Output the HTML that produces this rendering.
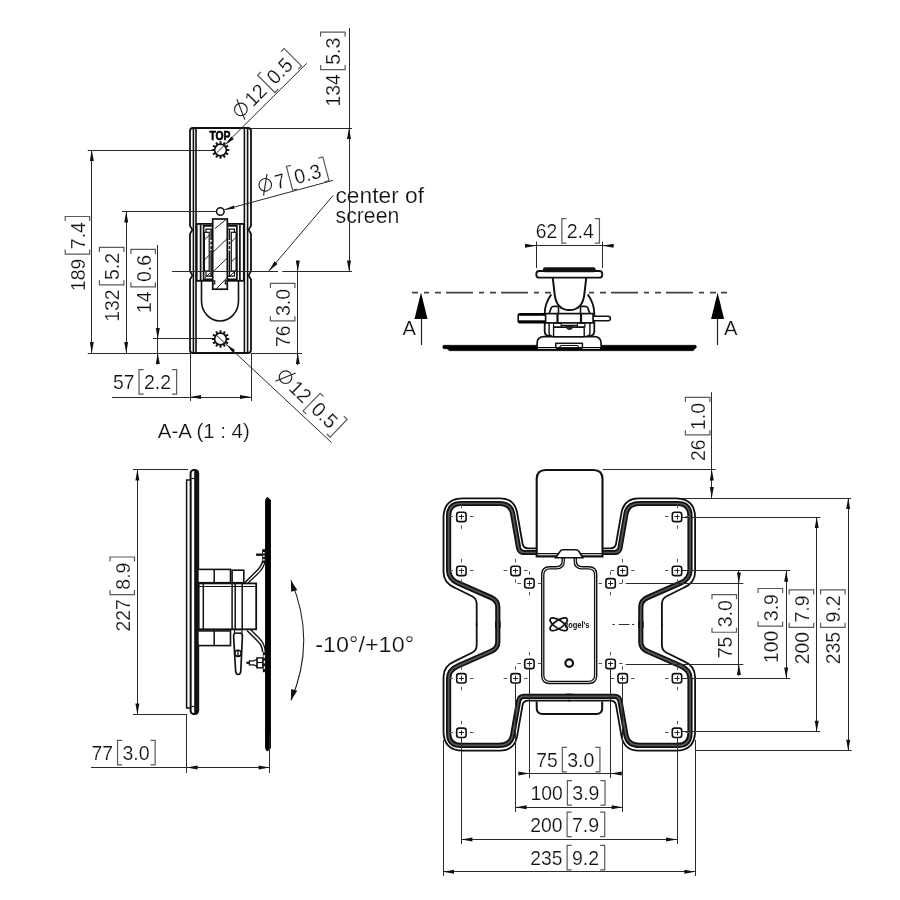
<!DOCTYPE html>
<html><head><meta charset="utf-8"><style>
html,body{margin:0;padding:0;background:#fff;}
svg{display:block;will-change:transform;}
text{font-family:"Liberation Sans",sans-serif;font-size:20px;fill:#111;stroke:#fff;stroke-width:0.2px;}
</style></head><body>
<svg width="900" height="900" viewBox="0 0 900 900">
<rect width="900" height="900" fill="#fff"/>
<rect x="190" y="128" width="61" height="225" rx="3" stroke="#111" stroke-width="1.8" fill="none"/>
<line x1="193.4" y1="128" x2="193.4" y2="353" stroke="#111" stroke-width="1.6" />
<line x1="196" y1="128" x2="196" y2="353" stroke="#111" stroke-width="1.6" />
<line x1="244.4" y1="128" x2="244.4" y2="353" stroke="#111" stroke-width="1.6" />
<line x1="247.6" y1="128" x2="247.6" y2="353" stroke="#111" stroke-width="1.6" />
<rect x="188" y="226.2" width="3" height="7.2" fill="#fff"/>
<rect x="250" y="226.2" width="3" height="7.2" fill="#fff"/>
<path d="M190,225.7 L192.4,229.79999999999998 L190,233.89999999999998" stroke="#111" stroke-width="1.7" fill="none" />
<path d="M251,225.7 L248.6,229.79999999999998 L251,233.89999999999998" stroke="#111" stroke-width="1.7" fill="none" />
<rect x="188" y="271.8" width="3" height="7.2" fill="#fff"/>
<rect x="250" y="271.8" width="3" height="7.2" fill="#fff"/>
<path d="M190,271.3 L192.4,275.40000000000003 L190,279.5" stroke="#111" stroke-width="1.7" fill="none" />
<path d="M251,271.3 L248.6,275.40000000000003 L251,279.5" stroke="#111" stroke-width="1.7" fill="none" />
<rect x="196.7" y="223.9" width="47.1" height="56.9" fill="#fff" stroke="#111" stroke-width="1.8"/>
<g transform="">
<line x1="200.6" y1="224.5" x2="200.6" y2="280.5" stroke="#111" stroke-width="1.7" />
<path d="M212.7,225.8 H203.6 V279.3 H212.7" stroke="#111" stroke-width="1.7" fill="none" />
<path d="M212.7,229.2 H206 V232.3 M206,271 V276.2 H212.7" stroke="#111" stroke-width="1.2" fill="none" />
<rect x="204.4" y="232.3" width="4.8" height="38.7" stroke="#111" stroke-width="1.2" fill="none"/>
<line x1="211.1" y1="229" x2="211.1" y2="277" stroke="#111" stroke-width="1.5" stroke-dasharray="11 1.5 3 1.5 3 1.5 30"/>
</g>
<g transform="translate(440.5,0) scale(-1,1)">
<line x1="200.6" y1="224.5" x2="200.6" y2="280.5" stroke="#111" stroke-width="1.7" />
<path d="M212.7,225.8 H203.6 V279.3 H212.7" stroke="#111" stroke-width="1.7" fill="none" />
<path d="M212.7,229.2 H206 V232.3 M206,271 V276.2 H212.7" stroke="#111" stroke-width="1.2" fill="none" />
<rect x="204.4" y="232.3" width="4.8" height="38.7" stroke="#111" stroke-width="1.2" fill="none"/>
<line x1="211.1" y1="229" x2="211.1" y2="277" stroke="#111" stroke-width="1.5" stroke-dasharray="11 1.5 3 1.5 3 1.5 30"/>
</g>
<line x1="204.4" y1="240" x2="209.2" y2="235.2" stroke="#222" stroke-width="1" />
<line x1="204.4" y1="260" x2="209.2" y2="255.2" stroke="#222" stroke-width="1" />
<line x1="205" y1="278" x2="210" y2="273" stroke="#222" stroke-width="1" />
<line x1="231.3" y1="242" x2="236.1" y2="237.2" stroke="#222" stroke-width="1" />
<line x1="231.3" y1="262" x2="236.1" y2="257.2" stroke="#222" stroke-width="1" />
<line x1="229" y1="277" x2="234" y2="272" stroke="#222" stroke-width="1" />
<rect x="212.7" y="219" width="14.6" height="70.2" fill="#fff" stroke="#111" stroke-width="1.7"/>
<path d="M212.7,280.8 h2 v3 h-2 M227.3,280.8 h-2 v3 h2" stroke="#111" stroke-width="1.2" fill="none" />
<line x1="215" y1="228.5" x2="227.3" y2="218.5" stroke="#222" stroke-width="1" />
<line x1="212.7" y1="252.5" x2="227.3" y2="238.5" stroke="#222" stroke-width="1" />
<line x1="212.7" y1="272" x2="227.3" y2="258" stroke="#222" stroke-width="1" />
<line x1="216" y1="289" x2="227.3" y2="277.5" stroke="#222" stroke-width="1" />
<line x1="209.5" y1="252" x2="212.7" y2="249" stroke="#222" stroke-width="1" />
<path d="M201.5,281 V301 A18.5,20 0 0 0 238.5,301 V281" stroke="#111" stroke-width="1.6" fill="none" />
<circle cx="220.5" cy="150" r="5.9" stroke="#111" stroke-width="1.7" fill="none"/>
<line x1="220.5" y1="143.8" x2="220.5" y2="141.3" stroke="#111" stroke-width="2.0"/>
<line x1="223.6" y1="144.63" x2="224.85" y2="142.47" stroke="#111" stroke-width="2.0"/>
<line x1="225.87" y1="146.9" x2="228.03" y2="145.65" stroke="#111" stroke-width="2.0"/>
<line x1="226.7" y1="150" x2="229.2" y2="150" stroke="#111" stroke-width="2.0"/>
<line x1="225.87" y1="153.1" x2="228.03" y2="154.35" stroke="#111" stroke-width="2.0"/>
<line x1="223.6" y1="155.37" x2="224.85" y2="157.53" stroke="#111" stroke-width="2.0"/>
<line x1="220.5" y1="156.2" x2="220.5" y2="158.7" stroke="#111" stroke-width="2.0"/>
<line x1="217.4" y1="155.37" x2="216.15" y2="157.53" stroke="#111" stroke-width="2.0"/>
<line x1="215.13" y1="153.1" x2="212.97" y2="154.35" stroke="#111" stroke-width="2.0"/>
<line x1="214.3" y1="150" x2="211.8" y2="150" stroke="#111" stroke-width="2.0"/>
<line x1="215.13" y1="146.9" x2="212.97" y2="145.65" stroke="#111" stroke-width="2.0"/>
<line x1="217.4" y1="144.63" x2="216.15" y2="142.47" stroke="#111" stroke-width="2.0"/>
<circle cx="220.5" cy="339" r="5.9" stroke="#111" stroke-width="1.7" fill="none"/>
<line x1="220.5" y1="332.8" x2="220.5" y2="330.3" stroke="#111" stroke-width="2.0"/>
<line x1="223.6" y1="333.63" x2="224.85" y2="331.47" stroke="#111" stroke-width="2.0"/>
<line x1="225.87" y1="335.9" x2="228.03" y2="334.65" stroke="#111" stroke-width="2.0"/>
<line x1="226.7" y1="339" x2="229.2" y2="339" stroke="#111" stroke-width="2.0"/>
<line x1="225.87" y1="342.1" x2="228.03" y2="343.35" stroke="#111" stroke-width="2.0"/>
<line x1="223.6" y1="344.37" x2="224.85" y2="346.53" stroke="#111" stroke-width="2.0"/>
<line x1="220.5" y1="345.2" x2="220.5" y2="347.7" stroke="#111" stroke-width="2.0"/>
<line x1="217.4" y1="344.37" x2="216.15" y2="346.53" stroke="#111" stroke-width="2.0"/>
<line x1="215.13" y1="342.1" x2="212.97" y2="343.35" stroke="#111" stroke-width="2.0"/>
<line x1="214.3" y1="339" x2="211.8" y2="339" stroke="#111" stroke-width="2.0"/>
<line x1="215.13" y1="335.9" x2="212.97" y2="334.65" stroke="#111" stroke-width="2.0"/>
<line x1="217.4" y1="333.63" x2="216.15" y2="331.47" stroke="#111" stroke-width="2.0"/>
<circle cx="220.3" cy="211.5" r="3.8" stroke="#111" stroke-width="1.5" fill="#fff"/>
<text x="209.5" y="139.8" style="font-size:12.5px;font-weight:bold;fill:#000;stroke:#000;stroke-width:0.6px" textLength="21" lengthAdjust="spacingAndGlyphs">TOP</text>
<line x1="349.5" y1="28" x2="349.5" y2="271.5" stroke="#2a2a2a" stroke-width="1" />
<line x1="251" y1="128.5" x2="352" y2="128.5" stroke="#2a2a2a" stroke-width="1" />
<path d="M349,128 L351,139 L347,139 Z" fill="#111"/>
<path d="M349,271.5 L347,260.5 L351,260.5 Z" fill="#111"/>
<g transform="translate(340.2,106.6) rotate(-90)"><text x="0" y="0" style="font-size:20.4px" textLength="32.31" lengthAdjust="spacingAndGlyphs">134</text><path d="M41.51,-19.6 H36.91 V4.9 H41.51" stroke="#5a5a5a" stroke-width="1.2" fill="none"/><text x="41.81" y="0" style="font-size:20.4px" textLength="27.2" lengthAdjust="spacingAndGlyphs">5.3</text><path d="M69.91,-19.6 H74.51 V4.9 H69.91" stroke="#5a5a5a" stroke-width="1.2" fill="none"/></g>
<line x1="172" y1="271.5" x2="278" y2="271.5" stroke="#2a2a2a" stroke-width="1" />
<line x1="282.2" y1="271.5" x2="352" y2="271.5" stroke="#2a2a2a" stroke-width="1" />
<line x1="91.5" y1="150" x2="91.5" y2="353" stroke="#2a2a2a" stroke-width="1" />
<line x1="87.8" y1="150.5" x2="213" y2="150.5" stroke="#2a2a2a" stroke-width="1" />
<line x1="87.8" y1="353.5" x2="190" y2="353.5" stroke="#2a2a2a" stroke-width="1" />
<path d="M91.8,150 L93.8,161 L89.8,161 Z" fill="#111"/>
<path d="M91.8,353 L89.8,342 L93.8,342 Z" fill="#111"/>
<g transform="translate(84.8,291) rotate(-90)"><text x="0" y="0" style="font-size:20.4px" textLength="32.31" lengthAdjust="spacingAndGlyphs">189</text><path d="M41.51,-19.6 H36.91 V4.9 H41.51" stroke="#5a5a5a" stroke-width="1.2" fill="none"/><text x="41.81" y="0" style="font-size:20.4px" textLength="27.2" lengthAdjust="spacingAndGlyphs">7.4</text><path d="M69.91,-19.6 H74.51 V4.9 H69.91" stroke="#5a5a5a" stroke-width="1.2" fill="none"/></g>
<line x1="126.5" y1="211.6" x2="126.5" y2="353" stroke="#2a2a2a" stroke-width="1" />
<line x1="122" y1="211.5" x2="216" y2="211.5" stroke="#2a2a2a" stroke-width="1" />
<path d="M126.2,211.6 L128.2,222.6 L124.2,222.6 Z" fill="#111"/>
<path d="M126.2,353 L124.2,342 L128.2,342 Z" fill="#111"/>
<g transform="translate(119,321.8) rotate(-90)"><text x="0" y="0" style="font-size:20.4px" textLength="32.31" lengthAdjust="spacingAndGlyphs">132</text><path d="M41.51,-19.6 H36.91 V4.9 H41.51" stroke="#5a5a5a" stroke-width="1.2" fill="none"/><text x="41.81" y="0" style="font-size:20.4px" textLength="27.2" lengthAdjust="spacingAndGlyphs">5.2</text><path d="M69.91,-19.6 H74.51 V4.9 H69.91" stroke="#5a5a5a" stroke-width="1.2" fill="none"/></g>
<line x1="157.5" y1="245" x2="157.5" y2="364.4" stroke="#2a2a2a" stroke-width="1" />
<line x1="153" y1="338.5" x2="212" y2="338.5" stroke="#2a2a2a" stroke-width="1" />
<path d="M157.8,338.9 L155.8,327.9 L159.8,327.9 Z" fill="#111"/>
<path d="M157.8,353 L159.8,364 L155.8,364 Z" fill="#111"/>
<g transform="translate(150.5,313) rotate(-90)"><text x="0" y="0" style="font-size:20.4px" textLength="21.44" lengthAdjust="spacingAndGlyphs">14</text><path d="M30.64,-19.6 H26.04 V4.9 H30.64" stroke="#5a5a5a" stroke-width="1.2" fill="none"/><text x="30.94" y="0" style="font-size:20.4px" textLength="27.2" lengthAdjust="spacingAndGlyphs">0.6</text><path d="M59.04,-19.6 H63.64 V4.9 H59.04" stroke="#5a5a5a" stroke-width="1.2" fill="none"/></g>
<line x1="112" y1="397.5" x2="251" y2="397.5" stroke="#2a2a2a" stroke-width="1" />
<line x1="190.5" y1="353" x2="190.5" y2="401" stroke="#2a2a2a" stroke-width="1" />
<line x1="251.5" y1="353" x2="251.5" y2="401" stroke="#2a2a2a" stroke-width="1" />
<path d="M190,397 L201,395 L201,399 Z" fill="#111"/>
<path d="M251,397 L240,399 L240,395 Z" fill="#111"/>
<g transform="translate(113,389.2)"><text x="0" y="0" style="font-size:20.4px" textLength="21.44" lengthAdjust="spacingAndGlyphs">57</text><path d="M30.64,-19.6 H26.04 V4.9 H30.64" stroke="#5a5a5a" stroke-width="1.2" fill="none"/><text x="30.94" y="0" style="font-size:20.4px" textLength="27.2" lengthAdjust="spacingAndGlyphs">2.2</text><path d="M59.04,-19.6 H63.64 V4.9 H59.04" stroke="#5a5a5a" stroke-width="1.2" fill="none"/></g>
<line x1="297.5" y1="261" x2="297.5" y2="365" stroke="#2a2a2a" stroke-width="1" />
<line x1="251" y1="353.5" x2="302" y2="353.5" stroke="#2a2a2a" stroke-width="1" />
<path d="M297.8,271.5 L295.8,260.5 L299.8,260.5 Z" fill="#111"/>
<path d="M297.8,353 L299.8,364 L295.8,364 Z" fill="#111"/>
<g transform="translate(290,347) rotate(-90)"><text x="0" y="0" style="font-size:20.4px" textLength="21.44" lengthAdjust="spacingAndGlyphs">76</text><path d="M30.64,-19.6 H26.04 V4.9 H30.64" stroke="#5a5a5a" stroke-width="1.2" fill="none"/><text x="30.94" y="0" style="font-size:20.4px" textLength="27.2" lengthAdjust="spacingAndGlyphs">3.0</text><path d="M59.04,-19.6 H63.64 V4.9 H59.04" stroke="#5a5a5a" stroke-width="1.2" fill="none"/></g>
<line x1="216.5" y1="153" x2="306.7" y2="63.3" stroke="#2a2a2a" stroke-width="1" />
<path d="M225.5,144.8 L231.33,136.49 L233.81,138.97 Z" fill="#111"/>
<line x1="216" y1="334.9" x2="331.5" y2="442.5" stroke="#2a2a2a" stroke-width="1" />
<path d="M226.5,344.5 L235.01,350.03 L232.63,352.59 Z" fill="#111"/>
<line x1="224.5" y1="209.7" x2="333" y2="180.4" stroke="#2a2a2a" stroke-width="1" />
<path d="M224.5,209.7 L233.7,205.4 L234.61,208.78 Z" fill="#111"/>
<line x1="268.9" y1="271" x2="333" y2="195.6" stroke="#2a2a2a" stroke-width="1" />
<path d="M268.9,271 L274.53,261.34 L277.57,263.94 Z" fill="#111"/>
<g transform="translate(241,119.5) rotate(-45)"><g stroke="#222" stroke-width="1.1" fill="none"><circle cx="7" cy="-7.2" r="6.3"/><line x1="2.6" y1="2.8" x2="11.4" y2="-17.2"/></g><g transform="translate(17,0)"><text x="0" y="0" style="font-size:20.4px" textLength="21.44" lengthAdjust="spacingAndGlyphs">12</text><path d="M30.64,-19.6 H26.04 V4.9 H30.64" stroke="#5a5a5a" stroke-width="1.2" fill="none"/><text x="30.94" y="0" style="font-size:20.4px" textLength="27.2" lengthAdjust="spacingAndGlyphs">0.5</text><path d="M59.04,-19.6 H63.64 V4.9 H59.04" stroke="#5a5a5a" stroke-width="1.2" fill="none"/></g></g>
<g transform="translate(260.3,193.6) rotate(-14.7)"><g stroke="#222" stroke-width="1.1" fill="none"><circle cx="7" cy="-7.2" r="6.3"/><line x1="2.6" y1="2.8" x2="11.4" y2="-17.2"/></g><g transform="translate(17,0)"><text x="0" y="0" style="font-size:20.4px" textLength="10.57" lengthAdjust="spacingAndGlyphs">7</text><path d="M19.77,-19.6 H15.17 V4.9 H19.77" stroke="#5a5a5a" stroke-width="1.2" fill="none"/><text x="20.07" y="0" style="font-size:20.4px" textLength="27.2" lengthAdjust="spacingAndGlyphs">0.3</text><path d="M48.17,-19.6 H52.77 V4.9 H48.17" stroke="#5a5a5a" stroke-width="1.2" fill="none"/></g></g>
<g transform="translate(275.5,377.5) rotate(44)"><g stroke="#222" stroke-width="1.1" fill="none"><circle cx="7" cy="-7.2" r="6.3"/><line x1="2.6" y1="2.8" x2="11.4" y2="-17.2"/></g><g transform="translate(17,0)"><text x="0" y="0" style="font-size:20.4px" textLength="21.44" lengthAdjust="spacingAndGlyphs">12</text><path d="M30.64,-19.6 H26.04 V4.9 H30.64" stroke="#5a5a5a" stroke-width="1.2" fill="none"/><text x="30.94" y="0" style="font-size:20.4px" textLength="27.2" lengthAdjust="spacingAndGlyphs">0.5</text><path d="M59.04,-19.6 H63.64 V4.9 H59.04" stroke="#5a5a5a" stroke-width="1.2" fill="none"/></g></g>
<text x="335.5" y="203.3" style="font-size:21.3px" textLength="88.5" lengthAdjust="spacingAndGlyphs">center of</text>
<text x="335.5" y="223.3" style="font-size:21.3px" textLength="63.8" lengthAdjust="spacingAndGlyphs">screen</text>
<text x="157.8" y="437.8" textLength="92" lengthAdjust="spacingAndGlyphs">A-A (1 : 4)</text>
<line x1="412" y1="292.6" x2="727" y2="292.6" stroke="#444" stroke-width="1.6" stroke-dasharray="27 6 5 6 6 5" stroke-dashoffset="21"/>
<path d="M421,292.6 L414.5,319 L427.5,319 Z" fill="#000"/>
<line x1="421.5" y1="319" x2="421.5" y2="345" stroke="#222" stroke-width="1.2" />
<path d="M717.6,292.6 L711.1,319 L724.1,319 Z" fill="#000"/>
<line x1="717.5" y1="319" x2="717.5" y2="345" stroke="#222" stroke-width="1.2" />
<text x="402.5" y="335.2" style="font-size:19.3px" textLength="13.5" lengthAdjust="spacingAndGlyphs">A</text>
<text x="724" y="335.2" style="font-size:19.3px" textLength="13.5" lengthAdjust="spacingAndGlyphs">A</text>
<path d="M443.5,345.3 H695.5 Q697.5,346.8 695.5,348.2 L693,350.7 H449.5 L447,348.7 H443.5 Q442,347 443.5,345.3 Z" stroke="#000" stroke-width="0.6" fill="#000" />
<path d="M537.1,347 V343.5 Q537.1,336.7 544,336.7 H594.2 Q601.1,336.7 601.1,343.5 V347" stroke="#111" stroke-width="1.7" fill="#fff" />
<rect x="555.8" y="343.3" width="26.6" height="4.5" stroke="#111" stroke-width="1.5" fill="#fff"/>
<path d="M559,347.8 L561,345.5 H577.5 L579.5,347.8" stroke="#111" stroke-width="1.1" fill="none" />
<line x1="538" y1="348.5" x2="555.8" y2="348.5" stroke="#ccc" stroke-width="1" />
<line x1="582.4" y1="348.5" x2="600" y2="348.5" stroke="#ccc" stroke-width="1" />
<path d="M551.3,294.4 Q545,303 544.7,313.1 V331.5 Q544.7,336 550.4,336.2" stroke="#111" stroke-width="1.8" fill="none" />
<path d="M587.7,294.4 Q594,303 594.3,313.1 V331.5 Q594.3,336 588.6,336.2" stroke="#111" stroke-width="1.8" fill="none" />
<path d="M549.1,323 V333 Q549.1,336 552,336.2" stroke="#111" stroke-width="1.4" fill="none" />
<path d="M589.9,323 V333 Q589.9,336 587,336.2" stroke="#111" stroke-width="1.4" fill="none" />
<rect x="553.6" y="327.3" width="30.6" height="9.4" stroke="#111" stroke-width="1.4" fill="#fff"/>
<path d="M553.6,325.6 H585.4" stroke="#111" stroke-width="1.6" fill="none" />
<rect x="553.6" y="323.2" width="7.5" height="3.6" stroke="#111" stroke-width="1.1" fill="#fff"/>
<rect x="577.4" y="323.2" width="7.5" height="3.6" stroke="#111" stroke-width="1.1" fill="#fff"/>
<path d="M565.5,325.8 A4,4.3 0 0 0 573.5,325.8 Z" fill="#222"/>
<path d="M549.1,313.6 L551.3,307.6 Q552,306.4 554,306.4 H558.5 V313.6" stroke="#111" stroke-width="1.6" fill="#fff" />
<path d="M589.9,313.6 L587.7,307.6 Q587,306.4 585,306.4 H580.5 V313.6" stroke="#111" stroke-width="1.6" fill="#fff" />
<path d="M552.8,278 L554.5,293 Q556,310 569.5,310.1 Q583,310 584.5,293 L586.2,278" stroke="#111" stroke-width="2" fill="#fff" />
<rect x="518.2" y="313.8" width="28" height="9" rx="1.5" stroke="#000" stroke-width="1.5" fill="#fff"/>
<line x1="519" y1="314.8" x2="546" y2="314.8" stroke="#000" stroke-width="2" />
<line x1="519" y1="321.6" x2="546" y2="321.6" stroke="#000" stroke-width="2.6" />
<rect x="592" y="316.2" width="18.4" height="4.6" rx="2.3" stroke="#111" stroke-width="1.5" fill="#fff"/>
<rect x="545.6" y="313.6" width="47.5" height="9.3" stroke="#111" stroke-width="1.7" fill="#fff"/>
<line x1="557.5" y1="313.6" x2="557.5" y2="322.9" stroke="#111" stroke-width="2.2" />
<line x1="581" y1="313.6" x2="581" y2="322.9" stroke="#111" stroke-width="2.2" />
<rect x="536.3" y="271" width="66" height="6.7" rx="3" stroke="#111" stroke-width="1.8" fill="#fff"/>
<rect x="543" y="267.3" width="52.6" height="4.9" rx="2" fill="#111"/>
<line x1="525" y1="245.5" x2="614" y2="245.5" stroke="#2a2a2a" stroke-width="1" />
<line x1="536.5" y1="241.7" x2="536.5" y2="268" stroke="#2a2a2a" stroke-width="1" />
<line x1="602.5" y1="241.7" x2="602.5" y2="268" stroke="#2a2a2a" stroke-width="1" />
<path d="M536,245.8 L525,247.8 L525,243.8 Z" fill="#111"/>
<path d="M602.5,245.8 L613.5,243.8 L613.5,247.8 Z" fill="#111"/>
<g transform="translate(535.8,238.3)"><text x="0" y="0" style="font-size:20.4px" textLength="21.44" lengthAdjust="spacingAndGlyphs">62</text><path d="M30.64,-19.6 H26.04 V4.9 H30.64" stroke="#5a5a5a" stroke-width="1.2" fill="none"/><text x="30.94" y="0" style="font-size:20.4px" textLength="27.2" lengthAdjust="spacingAndGlyphs">2.4</text><path d="M59.04,-19.6 H63.64 V4.9 H59.04" stroke="#5a5a5a" stroke-width="1.2" fill="none"/></g>
<rect x="190.6" y="470" width="7.6" height="244" rx="3.2" stroke="#111" stroke-width="2.0" fill="#fff"/>
<rect x="194.2" y="471" width="3.6" height="242" fill="#111"/>
<line x1="191.5" y1="478.5" x2="194.2" y2="478.5" stroke="#111" stroke-width="1.2" />
<line x1="191.5" y1="706.5" x2="194.2" y2="706.5" stroke="#111" stroke-width="1.2" />
<rect x="186.6" y="480" width="3.8" height="228" stroke="#111" stroke-width="1.5" fill="#fff"/>
<path d="M265.6,502 Q265.6,497.6 267.5,497.6 L270.4,500 V748 L267.5,751 Q265.6,751 265.6,746 Z" stroke="#000" stroke-width="1" fill="#000" />
<rect x="197.9" y="569.4" width="32.6" height="13.3" stroke="#111" stroke-width="1.6" fill="#fff"/>
<line x1="214.2" y1="569.4" x2="214.2" y2="582.7" stroke="#111" stroke-width="1.5" />
<rect x="232.1" y="570.2" width="11.7" height="12.5" stroke="#111" stroke-width="1.6" fill="#fff"/>
<rect x="198.7" y="583.4" width="57.5" height="45.9" stroke="#111" stroke-width="1.8" fill="#fff"/>
<line x1="203.3" y1="583.4" x2="203.3" y2="629.3" stroke="#111" stroke-width="1.5" />
<line x1="232.1" y1="583.4" x2="232.1" y2="629.3" stroke="#111" stroke-width="1.5" />
<line x1="235.2" y1="583.4" x2="235.2" y2="629.3" stroke="#111" stroke-width="1.5" />
<line x1="242.2" y1="583.4" x2="242.2" y2="629.3" stroke="#111" stroke-width="1.5" />
<line x1="198.7" y1="586.5" x2="256.2" y2="586.5" stroke="#111" stroke-width="1.2" />
<rect x="197.9" y="630.9" width="32.6" height="14.7" stroke="#111" stroke-width="1.6" fill="#fff"/>
<line x1="214.2" y1="630.9" x2="214.2" y2="645.6" stroke="#111" stroke-width="1.5" />
<path d="M233.6,636 Q233.6,633 236,633 H240 Q242.4,633 242.4,636 L240.8,671 Q240.5,674.5 238.2,674.5 Q235.9,674.5 235.6,671 Z" stroke="#111" stroke-width="1.7" fill="#fff" />
<circle cx="238" cy="653.3" r="3.1" stroke="#111" stroke-width="1.6" fill="#fff"/>
<line x1="238" y1="650.5" x2="238" y2="656" stroke="#111" stroke-width="1.3" />
<rect x="234.5" y="629.8" width="7.5" height="3.2" stroke="#111" stroke-width="1.2" fill="#fff"/>
<path d="M244.5,583 L255,572.5 Q262,566 262.6,561" stroke="#111" stroke-width="1.5" fill="none" />
<path d="M248,583 L257,574.5 Q264.5,567.5 265,561" stroke="#111" stroke-width="1.3" fill="none" />
<path d="M247,630.5 L257.5,641 Q262.3,645.5 262.6,652" stroke="#111" stroke-width="1.5" fill="none" />
<path d="M250.5,629.5 L259.5,638.5 Q265,644 265.3,652" stroke="#111" stroke-width="1.3" fill="none" />
<rect x="262.2" y="549.2" width="3.4" height="13.6" fill="#111"/>
<rect x="263.1" y="552" width="1.5" height="1.6" fill="#fff"/>
<rect x="263.1" y="555.5" width="1.5" height="1.6" fill="#fff"/>
<rect x="263.1" y="559" width="1.5" height="1.6" fill="#fff"/>
<line x1="256.1" y1="554.7" x2="262.2" y2="554.7" stroke="#111" stroke-width="2.4" />
<rect x="262.8" y="652.2" width="2.8" height="20" fill="#111"/>
<rect x="263.5" y="655" width="1.4" height="3" fill="#fff"/>
<rect x="263.5" y="660.5" width="1.4" height="3" fill="#fff"/>
<rect x="263.5" y="666" width="1.4" height="3" fill="#fff"/>
<rect x="256.9" y="657.9" width="5.9" height="9.9" stroke="#111" stroke-width="1.4" fill="#fff"/>
<line x1="256.9" y1="662.5" x2="262.8" y2="662.5" stroke="#111" stroke-width="1.2" />
<path d="M249.4,660.8 H253.5 L256.9,659.5 V666 L253.5,664.8 H249.4 Z" stroke="#111" stroke-width="1.3" fill="#fff" />
<line x1="246.4" y1="662.8" x2="249.4" y2="662.8" stroke="#111" stroke-width="2.2" />
<line x1="137.5" y1="469.6" x2="137.5" y2="714.4" stroke="#2a2a2a" stroke-width="1" />
<line x1="133" y1="469.5" x2="188" y2="469.5" stroke="#2a2a2a" stroke-width="1" />
<line x1="133" y1="714.5" x2="187" y2="714.5" stroke="#2a2a2a" stroke-width="1" />
<path d="M137.4,469.6 L139.4,480.6 L135.4,480.6 Z" fill="#111"/>
<path d="M137.4,714.4 L135.4,703.4 L139.4,703.4 Z" fill="#111"/>
<g transform="translate(129.6,631.5) rotate(-90)"><text x="0" y="0" style="font-size:20.4px" textLength="32.31" lengthAdjust="spacingAndGlyphs">227</text><path d="M41.51,-19.6 H36.91 V4.9 H41.51" stroke="#5a5a5a" stroke-width="1.2" fill="none"/><text x="41.81" y="0" style="font-size:20.4px" textLength="27.2" lengthAdjust="spacingAndGlyphs">8.9</text><path d="M69.91,-19.6 H74.51 V4.9 H69.91" stroke="#5a5a5a" stroke-width="1.2" fill="none"/></g>
<line x1="91" y1="767.5" x2="269.6" y2="767.5" stroke="#2a2a2a" stroke-width="1" />
<line x1="186.5" y1="714" x2="186.5" y2="773" stroke="#2a2a2a" stroke-width="1" />
<line x1="269.5" y1="735" x2="269.5" y2="773" stroke="#2a2a2a" stroke-width="1" />
<path d="M186.6,767.6 L197.6,765.6 L197.6,769.6 Z" fill="#111"/>
<path d="M269.6,767.6 L258.6,769.6 L258.6,765.6 Z" fill="#111"/>
<g transform="translate(91.5,760)"><text x="0" y="0" style="font-size:20.4px" textLength="21.44" lengthAdjust="spacingAndGlyphs">77</text><path d="M30.64,-19.6 H26.04 V4.9 H30.64" stroke="#5a5a5a" stroke-width="1.2" fill="none"/><text x="30.94" y="0" style="font-size:20.4px" textLength="27.2" lengthAdjust="spacingAndGlyphs">3.0</text><path d="M59.04,-19.6 H63.64 V4.9 H59.04" stroke="#5a5a5a" stroke-width="1.2" fill="none"/></g>
<path d="M291,580.4 Q316.5,640.4 291,700.4" stroke="#222" stroke-width="1.1" fill="none" />
<path d="M291,580.4 L297.27,590 L291.05,591.87 Z" fill="#111"/>
<path d="M291,700.4 L291.05,688.93 L297.27,690.8 Z" fill="#111"/>
<text x="315.3" y="652.4" style="font-size:22px" textLength="98.7" lengthAdjust="spacingAndGlyphs">-10°/+10°</text>
<g transform="">
<path d="M569.3,552.5 H524 Q519.5,552.5 518.6,548 L512.5,513 Q510.5,503.5 499,503.5 H461 Q448.6,503.5 448.6,516 V570 Q448.6,579 458,583 L491,597.5 Q497.8,600.5 497.8,607 V624.45" stroke="#111" stroke-width="5.2" fill="none" stroke-linecap="square"/>
<path d="M569.3,552.5 H524 Q519.5,552.5 518.6,548 L512.5,513 Q510.5,503.5 499,503.5 H461 Q448.6,503.5 448.6,516 V570 Q448.6,579 458,583 L491,597.5 Q497.8,600.5 497.8,607 V624.45" stroke="#555" stroke-width="1.7" fill="none" />
<path d="M569.3,548.3 H528 Q523.4,548.3 522.6,544 L517,512 Q514,498.3 500,498.3 H463 Q443.5,498.3 443.5,518 V572 Q443.5,583 455,587.8 L472,596.2 Q476.7,598.5 476.7,604 V624.45" stroke="#111" stroke-width="1.8" fill="none" stroke-linecap="square"/>
</g>
<g transform="translate(1138.6,0) scale(-1,1)">
<path d="M569.3,552.5 H524 Q519.5,552.5 518.6,548 L512.5,513 Q510.5,503.5 499,503.5 H461 Q448.6,503.5 448.6,516 V570 Q448.6,579 458,583 L491,597.5 Q497.8,600.5 497.8,607 V624.45" stroke="#111" stroke-width="5.2" fill="none" stroke-linecap="square"/>
<path d="M569.3,552.5 H524 Q519.5,552.5 518.6,548 L512.5,513 Q510.5,503.5 499,503.5 H461 Q448.6,503.5 448.6,516 V570 Q448.6,579 458,583 L491,597.5 Q497.8,600.5 497.8,607 V624.45" stroke="#555" stroke-width="1.7" fill="none" />
<path d="M569.3,548.3 H528 Q523.4,548.3 522.6,544 L517,512 Q514,498.3 500,498.3 H463 Q443.5,498.3 443.5,518 V572 Q443.5,583 455,587.8 L472,596.2 Q476.7,598.5 476.7,604 V624.45" stroke="#111" stroke-width="1.8" fill="none" stroke-linecap="square"/>
</g>
<g transform="translate(0,1248.9) scale(1,-1)">
<path d="M569.3,552.5 H524 Q519.5,552.5 518.6,548 L512.5,513 Q510.5,503.5 499,503.5 H461 Q448.6,503.5 448.6,516 V570 Q448.6,579 458,583 L491,597.5 Q497.8,600.5 497.8,607 V624.45" stroke="#111" stroke-width="5.2" fill="none" stroke-linecap="square"/>
<path d="M569.3,552.5 H524 Q519.5,552.5 518.6,548 L512.5,513 Q510.5,503.5 499,503.5 H461 Q448.6,503.5 448.6,516 V570 Q448.6,579 458,583 L491,597.5 Q497.8,600.5 497.8,607 V624.45" stroke="#555" stroke-width="1.7" fill="none" />
<path d="M569.3,548.3 H528 Q523.4,548.3 522.6,544 L517,512 Q514,498.3 500,498.3 H463 Q443.5,498.3 443.5,518 V572 Q443.5,583 455,587.8 L472,596.2 Q476.7,598.5 476.7,604 V624.45" stroke="#111" stroke-width="1.8" fill="none" stroke-linecap="square"/>
</g>
<g transform="translate(1138.6,1248.9) scale(-1,-1)">
<path d="M569.3,552.5 H524 Q519.5,552.5 518.6,548 L512.5,513 Q510.5,503.5 499,503.5 H461 Q448.6,503.5 448.6,516 V570 Q448.6,579 458,583 L491,597.5 Q497.8,600.5 497.8,607 V624.45" stroke="#111" stroke-width="5.2" fill="none" stroke-linecap="square"/>
<path d="M569.3,552.5 H524 Q519.5,552.5 518.6,548 L512.5,513 Q510.5,503.5 499,503.5 H461 Q448.6,503.5 448.6,516 V570 Q448.6,579 458,583 L491,597.5 Q497.8,600.5 497.8,607 V624.45" stroke="#555" stroke-width="1.7" fill="none" />
<path d="M569.3,548.3 H528 Q523.4,548.3 522.6,544 L517,512 Q514,498.3 500,498.3 H463 Q443.5,498.3 443.5,518 V572 Q443.5,583 455,587.8 L472,596.2 Q476.7,598.5 476.7,604 V624.45" stroke="#111" stroke-width="1.8" fill="none" stroke-linecap="square"/>
</g>
<line x1="497.8" y1="621" x2="497.8" y2="628" stroke="#111" stroke-width="5.2" />
<line x1="497.8" y1="621" x2="497.8" y2="628" stroke="#555" stroke-width="1.7" />
<line x1="640.8" y1="621" x2="640.8" y2="628" stroke="#111" stroke-width="5.2" />
<line x1="640.8" y1="621" x2="640.8" y2="628" stroke="#555" stroke-width="1.7" />
<line x1="565" y1="696.4" x2="574" y2="696.4" stroke="#111" stroke-width="5.2" />
<line x1="565" y1="696.4" x2="574" y2="696.4" stroke="#555" stroke-width="1.7" />
<path d="M536.7,556.4 V479 Q536.7,470 545.7,470 H593.5 Q602.5,470 602.5,479 V556.4 Z" stroke="#111" stroke-width="2.1" fill="#fff" />
<line x1="537.5" y1="553.6" x2="601.7" y2="553.6" stroke="#111" stroke-width="1.3" />
<path d="M555.6,557.8 L560,551.5 Q561,549.8 563,549.8 H576 Q578,549.8 579,551.5 L582.8,557.8 Z" stroke="#111" stroke-width="1.6" fill="#fff" />
<path d="M562.2,558 V560.5 Q562.2,566.7 556,566.7 H549.5 Q541.7,566.7 541.7,574.5 V675.5 Q541.7,683.5 549.7,683.5 H588.7 Q596.7,683.5 596.7,675.5 V574.5 Q596.7,566.7 588.9,566.7 H582.5 Q576.3,566.7 576.3,560.5 V558" stroke="#111" stroke-width="1.4" fill="none" />
<path d="M564.3,558 V561 Q564.3,568.8 556.5,568.8 H550 Q543.8,568.8 543.8,575 V675 Q543.8,681.4 550.2,681.4 H588.2 Q594.6,681.4 594.6,675 V575 Q594.6,568.8 588.4,568.8 H582 Q574.2,568.8 574.2,561 V558" stroke="#111" stroke-width="1.3" fill="none" />
<path d="M536.7,701.5 V708 Q536.7,714 542.7,714 H596.2 Q602.2,714 602.2,708 V701.5" stroke="#111" stroke-width="2" fill="none" />
<circle cx="569.2" cy="663.1" r="3.8" stroke="#111" stroke-width="2.2" fill="#fff"/>
<g stroke="#111" stroke-width="1.7" fill="none"><ellipse cx="558.7" cy="624.3" rx="10" ry="4" transform="rotate(33 558.7 624.3)"/><ellipse cx="558.7" cy="624.3" rx="10" ry="4" transform="rotate(-33 558.7 624.3)"/></g>
<text x="564" y="627.8" style="font-size:8.5px;font-weight:bold;stroke:none;fill:#111" textLength="25.5" lengthAdjust="spacingAndGlyphs">vogel's</text>
<rect x="456.7" y="512.2" width="9.4" height="9.4" rx="2.4" stroke="#111" stroke-width="1.6" fill="#fff"/>
<line x1="458.8" y1="516.5" x2="464" y2="516.5" stroke="#222" stroke-width="1" />
<line x1="461.5" y1="514.3" x2="461.5" y2="519.5" stroke="#222" stroke-width="1" />
<line x1="449.4" y1="516.5" x2="452.9" y2="516.5" stroke="#555" stroke-width="1" />
<line x1="469.9" y1="516.5" x2="473.4" y2="516.5" stroke="#555" stroke-width="1" />
<line x1="461.5" y1="504.9" x2="461.5" y2="508.4" stroke="#555" stroke-width="1" />
<line x1="461.5" y1="525.4" x2="461.5" y2="528.9" stroke="#555" stroke-width="1" />
<rect x="456.7" y="566.2" width="9.4" height="9.4" rx="2.4" stroke="#111" stroke-width="1.6" fill="#fff"/>
<line x1="458.8" y1="570.5" x2="464" y2="570.5" stroke="#222" stroke-width="1" />
<line x1="461.5" y1="568.3" x2="461.5" y2="573.5" stroke="#222" stroke-width="1" />
<line x1="449.4" y1="570.5" x2="452.9" y2="570.5" stroke="#555" stroke-width="1" />
<line x1="469.9" y1="570.5" x2="473.4" y2="570.5" stroke="#555" stroke-width="1" />
<line x1="461.5" y1="558.9" x2="461.5" y2="562.4" stroke="#555" stroke-width="1" />
<line x1="461.5" y1="579.4" x2="461.5" y2="582.9" stroke="#555" stroke-width="1" />
<rect x="456.7" y="673.6" width="9.4" height="9.4" rx="2.4" stroke="#111" stroke-width="1.6" fill="#fff"/>
<line x1="458.8" y1="678.5" x2="464" y2="678.5" stroke="#222" stroke-width="1" />
<line x1="461.5" y1="675.7" x2="461.5" y2="680.9" stroke="#222" stroke-width="1" />
<line x1="449.4" y1="678.5" x2="452.9" y2="678.5" stroke="#555" stroke-width="1" />
<line x1="469.9" y1="678.5" x2="473.4" y2="678.5" stroke="#555" stroke-width="1" />
<line x1="461.5" y1="666.3" x2="461.5" y2="669.8" stroke="#555" stroke-width="1" />
<line x1="461.5" y1="686.8" x2="461.5" y2="690.3" stroke="#555" stroke-width="1" />
<rect x="456.7" y="728.1" width="9.4" height="9.4" rx="2.4" stroke="#111" stroke-width="1.6" fill="#fff"/>
<line x1="458.8" y1="732.5" x2="464" y2="732.5" stroke="#222" stroke-width="1" />
<line x1="461.5" y1="730.2" x2="461.5" y2="735.4" stroke="#222" stroke-width="1" />
<line x1="449.4" y1="732.5" x2="452.9" y2="732.5" stroke="#555" stroke-width="1" />
<line x1="469.9" y1="732.5" x2="473.4" y2="732.5" stroke="#555" stroke-width="1" />
<line x1="461.5" y1="720.8" x2="461.5" y2="724.3" stroke="#555" stroke-width="1" />
<line x1="461.5" y1="741.3" x2="461.5" y2="744.8" stroke="#555" stroke-width="1" />
<rect x="672.3" y="512.2" width="9.4" height="9.4" rx="2.4" stroke="#111" stroke-width="1.6" fill="#fff"/>
<line x1="674.4" y1="516.5" x2="679.6" y2="516.5" stroke="#222" stroke-width="1" />
<line x1="677.5" y1="514.3" x2="677.5" y2="519.5" stroke="#222" stroke-width="1" />
<line x1="665" y1="516.5" x2="668.5" y2="516.5" stroke="#555" stroke-width="1" />
<line x1="685.5" y1="516.5" x2="689" y2="516.5" stroke="#555" stroke-width="1" />
<line x1="677.5" y1="504.9" x2="677.5" y2="508.4" stroke="#555" stroke-width="1" />
<line x1="677.5" y1="525.4" x2="677.5" y2="528.9" stroke="#555" stroke-width="1" />
<rect x="672.3" y="566.2" width="9.4" height="9.4" rx="2.4" stroke="#111" stroke-width="1.6" fill="#fff"/>
<line x1="674.4" y1="570.5" x2="679.6" y2="570.5" stroke="#222" stroke-width="1" />
<line x1="677.5" y1="568.3" x2="677.5" y2="573.5" stroke="#222" stroke-width="1" />
<line x1="665" y1="570.5" x2="668.5" y2="570.5" stroke="#555" stroke-width="1" />
<line x1="685.5" y1="570.5" x2="689" y2="570.5" stroke="#555" stroke-width="1" />
<line x1="677.5" y1="558.9" x2="677.5" y2="562.4" stroke="#555" stroke-width="1" />
<line x1="677.5" y1="579.4" x2="677.5" y2="582.9" stroke="#555" stroke-width="1" />
<rect x="672.3" y="673.6" width="9.4" height="9.4" rx="2.4" stroke="#111" stroke-width="1.6" fill="#fff"/>
<line x1="674.4" y1="678.5" x2="679.6" y2="678.5" stroke="#222" stroke-width="1" />
<line x1="677.5" y1="675.7" x2="677.5" y2="680.9" stroke="#222" stroke-width="1" />
<line x1="665" y1="678.5" x2="668.5" y2="678.5" stroke="#555" stroke-width="1" />
<line x1="685.5" y1="678.5" x2="689" y2="678.5" stroke="#555" stroke-width="1" />
<line x1="677.5" y1="666.3" x2="677.5" y2="669.8" stroke="#555" stroke-width="1" />
<line x1="677.5" y1="686.8" x2="677.5" y2="690.3" stroke="#555" stroke-width="1" />
<rect x="672.3" y="728.1" width="9.4" height="9.4" rx="2.4" stroke="#111" stroke-width="1.6" fill="#fff"/>
<line x1="674.4" y1="732.5" x2="679.6" y2="732.5" stroke="#222" stroke-width="1" />
<line x1="677.5" y1="730.2" x2="677.5" y2="735.4" stroke="#222" stroke-width="1" />
<line x1="665" y1="732.5" x2="668.5" y2="732.5" stroke="#555" stroke-width="1" />
<line x1="685.5" y1="732.5" x2="689" y2="732.5" stroke="#555" stroke-width="1" />
<line x1="677.5" y1="720.8" x2="677.5" y2="724.3" stroke="#555" stroke-width="1" />
<line x1="677.5" y1="741.3" x2="677.5" y2="744.8" stroke="#555" stroke-width="1" />
<rect x="510.9" y="566.2" width="9.4" height="9.4" rx="2.4" stroke="#111" stroke-width="1.6" fill="#fff"/>
<line x1="513" y1="570.5" x2="518.2" y2="570.5" stroke="#222" stroke-width="1" />
<line x1="515.5" y1="568.3" x2="515.5" y2="573.5" stroke="#222" stroke-width="1" />
<line x1="503.6" y1="570.5" x2="507.1" y2="570.5" stroke="#555" stroke-width="1" />
<line x1="524.1" y1="570.5" x2="527.6" y2="570.5" stroke="#555" stroke-width="1" />
<line x1="515.5" y1="558.9" x2="515.5" y2="562.4" stroke="#555" stroke-width="1" />
<line x1="515.5" y1="579.4" x2="515.5" y2="582.9" stroke="#555" stroke-width="1" />
<rect x="510.9" y="673.6" width="9.4" height="9.4" rx="2.4" stroke="#111" stroke-width="1.6" fill="#fff"/>
<line x1="513" y1="678.5" x2="518.2" y2="678.5" stroke="#222" stroke-width="1" />
<line x1="515.5" y1="675.7" x2="515.5" y2="680.9" stroke="#222" stroke-width="1" />
<line x1="503.6" y1="678.5" x2="507.1" y2="678.5" stroke="#555" stroke-width="1" />
<line x1="524.1" y1="678.5" x2="527.6" y2="678.5" stroke="#555" stroke-width="1" />
<line x1="515.5" y1="666.3" x2="515.5" y2="669.8" stroke="#555" stroke-width="1" />
<line x1="515.5" y1="686.8" x2="515.5" y2="690.3" stroke="#555" stroke-width="1" />
<rect x="618" y="566.2" width="9.4" height="9.4" rx="2.4" stroke="#111" stroke-width="1.6" fill="#fff"/>
<line x1="620.1" y1="570.5" x2="625.3" y2="570.5" stroke="#222" stroke-width="1" />
<line x1="622.5" y1="568.3" x2="622.5" y2="573.5" stroke="#222" stroke-width="1" />
<line x1="610.7" y1="570.5" x2="614.2" y2="570.5" stroke="#555" stroke-width="1" />
<line x1="631.2" y1="570.5" x2="634.7" y2="570.5" stroke="#555" stroke-width="1" />
<line x1="622.5" y1="558.9" x2="622.5" y2="562.4" stroke="#555" stroke-width="1" />
<line x1="622.5" y1="579.4" x2="622.5" y2="582.9" stroke="#555" stroke-width="1" />
<rect x="618" y="673.6" width="9.4" height="9.4" rx="2.4" stroke="#111" stroke-width="1.6" fill="#fff"/>
<line x1="620.1" y1="678.5" x2="625.3" y2="678.5" stroke="#222" stroke-width="1" />
<line x1="622.5" y1="675.7" x2="622.5" y2="680.9" stroke="#222" stroke-width="1" />
<line x1="610.7" y1="678.5" x2="614.2" y2="678.5" stroke="#555" stroke-width="1" />
<line x1="631.2" y1="678.5" x2="634.7" y2="678.5" stroke="#555" stroke-width="1" />
<line x1="622.5" y1="666.3" x2="622.5" y2="669.8" stroke="#555" stroke-width="1" />
<line x1="622.5" y1="686.8" x2="622.5" y2="690.3" stroke="#555" stroke-width="1" />
<rect x="524.7" y="578.6" width="9.4" height="9.4" rx="2.4" stroke="#111" stroke-width="1.6" fill="#fff"/>
<line x1="526.8" y1="583.5" x2="532" y2="583.5" stroke="#222" stroke-width="1" />
<line x1="529.5" y1="580.7" x2="529.5" y2="585.9" stroke="#222" stroke-width="1" />
<line x1="517.4" y1="583.5" x2="520.9" y2="583.5" stroke="#555" stroke-width="1" />
<line x1="537.9" y1="583.5" x2="541.4" y2="583.5" stroke="#555" stroke-width="1" />
<line x1="529.5" y1="571.3" x2="529.5" y2="574.8" stroke="#555" stroke-width="1" />
<line x1="529.5" y1="591.8" x2="529.5" y2="595.3" stroke="#555" stroke-width="1" />
<rect x="524.7" y="659.2" width="9.4" height="9.4" rx="2.4" stroke="#111" stroke-width="1.6" fill="#fff"/>
<line x1="526.8" y1="663.5" x2="532" y2="663.5" stroke="#222" stroke-width="1" />
<line x1="529.5" y1="661.3" x2="529.5" y2="666.5" stroke="#222" stroke-width="1" />
<line x1="517.4" y1="663.5" x2="520.9" y2="663.5" stroke="#555" stroke-width="1" />
<line x1="537.9" y1="663.5" x2="541.4" y2="663.5" stroke="#555" stroke-width="1" />
<line x1="529.5" y1="651.9" x2="529.5" y2="655.4" stroke="#555" stroke-width="1" />
<line x1="529.5" y1="672.4" x2="529.5" y2="675.9" stroke="#555" stroke-width="1" />
<rect x="605.9" y="578.6" width="9.4" height="9.4" rx="2.4" stroke="#111" stroke-width="1.6" fill="#fff"/>
<line x1="608" y1="583.5" x2="613.2" y2="583.5" stroke="#222" stroke-width="1" />
<line x1="610.5" y1="580.7" x2="610.5" y2="585.9" stroke="#222" stroke-width="1" />
<line x1="598.6" y1="583.5" x2="602.1" y2="583.5" stroke="#555" stroke-width="1" />
<line x1="619.1" y1="583.5" x2="622.6" y2="583.5" stroke="#555" stroke-width="1" />
<line x1="610.5" y1="571.3" x2="610.5" y2="574.8" stroke="#555" stroke-width="1" />
<line x1="610.5" y1="591.8" x2="610.5" y2="595.3" stroke="#555" stroke-width="1" />
<rect x="605.9" y="659.2" width="9.4" height="9.4" rx="2.4" stroke="#111" stroke-width="1.6" fill="#fff"/>
<line x1="608" y1="663.5" x2="613.2" y2="663.5" stroke="#222" stroke-width="1" />
<line x1="610.5" y1="661.3" x2="610.5" y2="666.5" stroke="#222" stroke-width="1" />
<line x1="598.6" y1="663.5" x2="602.1" y2="663.5" stroke="#555" stroke-width="1" />
<line x1="619.1" y1="663.5" x2="622.6" y2="663.5" stroke="#555" stroke-width="1" />
<line x1="610.5" y1="651.9" x2="610.5" y2="655.4" stroke="#555" stroke-width="1" />
<line x1="610.5" y1="672.4" x2="610.5" y2="675.9" stroke="#555" stroke-width="1" />
<line x1="612.4" y1="624.5" x2="640" y2="624.5" stroke="#333" stroke-width="1.1" stroke-dasharray="2.4 3.9 10.8 2.4 2.3 100"/>
<line x1="711.5" y1="392.2" x2="711.5" y2="498" stroke="#2a2a2a" stroke-width="1" />
<line x1="603" y1="469.5" x2="715.6" y2="469.5" stroke="#2a2a2a" stroke-width="1" />
<line x1="682" y1="498.5" x2="851" y2="498.5" stroke="#2a2a2a" stroke-width="1" />
<path d="M711.8,469.6 L713.8,480.6 L709.8,480.6 Z" fill="#111"/>
<path d="M711.8,498 L709.8,487 L713.8,487 Z" fill="#111"/>
<g transform="translate(705,461) rotate(-90)"><text x="0" y="0" style="font-size:20.4px" textLength="21.44" lengthAdjust="spacingAndGlyphs">26</text><path d="M30.64,-19.6 H26.04 V4.9 H30.64" stroke="#5a5a5a" stroke-width="1.2" fill="none"/><text x="30.94" y="0" style="font-size:20.4px" textLength="27.2" lengthAdjust="spacingAndGlyphs">1.0</text><path d="M59.04,-19.6 H63.64 V4.9 H59.04" stroke="#5a5a5a" stroke-width="1.2" fill="none"/></g>
<line x1="848.5" y1="498" x2="848.5" y2="750.7" stroke="#2a2a2a" stroke-width="1" />
<line x1="696" y1="750.5" x2="851.6" y2="750.5" stroke="#2a2a2a" stroke-width="1" />
<path d="M848.2,498 L850.2,509 L846.2,509 Z" fill="#111"/>
<path d="M848.2,750.7 L846.2,739.7 L850.2,739.7 Z" fill="#111"/>
<g transform="translate(840.2,664.3) rotate(-90)"><text x="0" y="0" style="font-size:20.4px" textLength="32.31" lengthAdjust="spacingAndGlyphs">235</text><path d="M41.51,-19.6 H36.91 V4.9 H41.51" stroke="#5a5a5a" stroke-width="1.2" fill="none"/><text x="41.81" y="0" style="font-size:20.4px" textLength="27.2" lengthAdjust="spacingAndGlyphs">9.2</text><path d="M69.91,-19.6 H74.51 V4.9 H69.91" stroke="#5a5a5a" stroke-width="1.2" fill="none"/></g>
<line x1="816.5" y1="517.1" x2="816.5" y2="731.8" stroke="#2a2a2a" stroke-width="1" />
<line x1="682" y1="517.5" x2="820.4" y2="517.5" stroke="#2a2a2a" stroke-width="1" />
<line x1="682" y1="731.5" x2="820.4" y2="731.5" stroke="#2a2a2a" stroke-width="1" />
<path d="M816.7,517.1 L818.7,528.1 L814.7,528.1 Z" fill="#111"/>
<path d="M816.7,731.8 L814.7,720.8 L818.7,720.8 Z" fill="#111"/>
<g transform="translate(808.8,664.3) rotate(-90)"><text x="0" y="0" style="font-size:20.4px" textLength="32.31" lengthAdjust="spacingAndGlyphs">200</text><path d="M41.51,-19.6 H36.91 V4.9 H41.51" stroke="#5a5a5a" stroke-width="1.2" fill="none"/><text x="41.81" y="0" style="font-size:20.4px" textLength="27.2" lengthAdjust="spacingAndGlyphs">7.9</text><path d="M69.91,-19.6 H74.51 V4.9 H69.91" stroke="#5a5a5a" stroke-width="1.2" fill="none"/></g>
<line x1="786.5" y1="570.8" x2="786.5" y2="678.5" stroke="#2a2a2a" stroke-width="1" />
<line x1="682" y1="570.5" x2="790" y2="570.5" stroke="#2a2a2a" stroke-width="1" />
<line x1="682" y1="678.5" x2="790" y2="678.5" stroke="#2a2a2a" stroke-width="1" />
<path d="M786.2,570.8 L788.2,581.8 L784.2,581.8 Z" fill="#111"/>
<path d="M786.2,678.5 L784.2,667.5 L788.2,667.5 Z" fill="#111"/>
<g transform="translate(777.7,663) rotate(-90)"><text x="0" y="0" style="font-size:20.4px" textLength="32.31" lengthAdjust="spacingAndGlyphs">100</text><path d="M41.51,-19.6 H36.91 V4.9 H41.51" stroke="#5a5a5a" stroke-width="1.2" fill="none"/><text x="41.81" y="0" style="font-size:20.4px" textLength="27.2" lengthAdjust="spacingAndGlyphs">3.9</text><path d="M69.91,-19.6 H74.51 V4.9 H69.91" stroke="#5a5a5a" stroke-width="1.2" fill="none"/></g>
<line x1="738.5" y1="570.8" x2="738.5" y2="675.6" stroke="#2a2a2a" stroke-width="1" />
<line x1="625.7" y1="583.5" x2="743.3" y2="583.5" stroke="#2a2a2a" stroke-width="1" />
<line x1="625.7" y1="664.5" x2="743.3" y2="664.5" stroke="#2a2a2a" stroke-width="1" />
<path d="M738.9,583.4 L736.9,572.4 L740.9,572.4 Z" fill="#111"/>
<path d="M738.9,664 L740.9,675 L736.9,675 Z" fill="#111"/>
<g transform="translate(731.6,658.3) rotate(-90)"><text x="0" y="0" style="font-size:20.4px" textLength="21.44" lengthAdjust="spacingAndGlyphs">75</text><path d="M30.64,-19.6 H26.04 V4.9 H30.64" stroke="#5a5a5a" stroke-width="1.2" fill="none"/><text x="30.94" y="0" style="font-size:20.4px" textLength="27.2" lengthAdjust="spacingAndGlyphs">3.0</text><path d="M59.04,-19.6 H63.64 V4.9 H59.04" stroke="#5a5a5a" stroke-width="1.2" fill="none"/></g>
<line x1="518.6" y1="773.5" x2="622.4" y2="773.5" stroke="#2a2a2a" stroke-width="1" />
<line x1="529.5" y1="669" x2="529.5" y2="778" stroke="#2a2a2a" stroke-width="1" />
<line x1="610.5" y1="669" x2="610.5" y2="778" stroke="#2a2a2a" stroke-width="1" />
<path d="M529.4,773.5 L518.4,775.5 L518.4,771.5 Z" fill="#111"/>
<path d="M610.6,773.5 L621.6,771.5 L621.6,775.5 Z" fill="#111"/>
<g transform="translate(536.3,767)"><text x="0" y="0" style="font-size:20.4px" textLength="21.44" lengthAdjust="spacingAndGlyphs">75</text><path d="M30.64,-19.6 H26.04 V4.9 H30.64" stroke="#5a5a5a" stroke-width="1.2" fill="none"/><text x="30.94" y="0" style="font-size:20.4px" textLength="27.2" lengthAdjust="spacingAndGlyphs">3.0</text><path d="M59.04,-19.6 H63.64 V4.9 H59.04" stroke="#5a5a5a" stroke-width="1.2" fill="none"/></g>
<line x1="515.6" y1="807.5" x2="622.7" y2="807.5" stroke="#2a2a2a" stroke-width="1" />
<line x1="515.5" y1="683" x2="515.5" y2="812" stroke="#2a2a2a" stroke-width="1" />
<line x1="622.5" y1="683" x2="622.5" y2="812" stroke="#2a2a2a" stroke-width="1" />
<path d="M515.6,807.3 L526.6,805.3 L526.6,809.3 Z" fill="#111"/>
<path d="M622.7,807.3 L611.7,809.3 L611.7,805.3 Z" fill="#111"/>
<g transform="translate(530.5,800.2)"><text x="0" y="0" style="font-size:20.4px" textLength="32.31" lengthAdjust="spacingAndGlyphs">100</text><path d="M41.51,-19.6 H36.91 V4.9 H41.51" stroke="#5a5a5a" stroke-width="1.2" fill="none"/><text x="41.81" y="0" style="font-size:20.4px" textLength="27.2" lengthAdjust="spacingAndGlyphs">3.9</text><path d="M69.91,-19.6 H74.51 V4.9 H69.91" stroke="#5a5a5a" stroke-width="1.2" fill="none"/></g>
<line x1="461.4" y1="839.5" x2="677" y2="839.5" stroke="#2a2a2a" stroke-width="1" />
<line x1="461.5" y1="737" x2="461.5" y2="844" stroke="#2a2a2a" stroke-width="1" />
<line x1="677.5" y1="737" x2="677.5" y2="844" stroke="#2a2a2a" stroke-width="1" />
<path d="M461.4,839.6 L472.4,837.6 L472.4,841.6 Z" fill="#111"/>
<path d="M677,839.6 L666,841.6 L666,837.6 Z" fill="#111"/>
<g transform="translate(530.2,831.7)"><text x="0" y="0" style="font-size:20.4px" textLength="32.31" lengthAdjust="spacingAndGlyphs">200</text><path d="M41.51,-19.6 H36.91 V4.9 H41.51" stroke="#5a5a5a" stroke-width="1.2" fill="none"/><text x="41.81" y="0" style="font-size:20.4px" textLength="27.2" lengthAdjust="spacingAndGlyphs">7.9</text><path d="M69.91,-19.6 H74.51 V4.9 H69.91" stroke="#5a5a5a" stroke-width="1.2" fill="none"/></g>
<line x1="443" y1="871.5" x2="695.4" y2="871.5" stroke="#2a2a2a" stroke-width="1" />
<line x1="443.5" y1="740" x2="443.5" y2="876" stroke="#2a2a2a" stroke-width="1" />
<line x1="695.5" y1="740" x2="695.5" y2="876" stroke="#2a2a2a" stroke-width="1" />
<path d="M443,871.8 L454,869.8 L454,873.8 Z" fill="#111"/>
<path d="M695.4,871.8 L684.4,873.8 L684.4,869.8 Z" fill="#111"/>
<g transform="translate(530.2,865)"><text x="0" y="0" style="font-size:20.4px" textLength="32.31" lengthAdjust="spacingAndGlyphs">235</text><path d="M41.51,-19.6 H36.91 V4.9 H41.51" stroke="#5a5a5a" stroke-width="1.2" fill="none"/><text x="41.81" y="0" style="font-size:20.4px" textLength="27.2" lengthAdjust="spacingAndGlyphs">9.2</text><path d="M69.91,-19.6 H74.51 V4.9 H69.91" stroke="#5a5a5a" stroke-width="1.2" fill="none"/></g>
</svg></body></html>
